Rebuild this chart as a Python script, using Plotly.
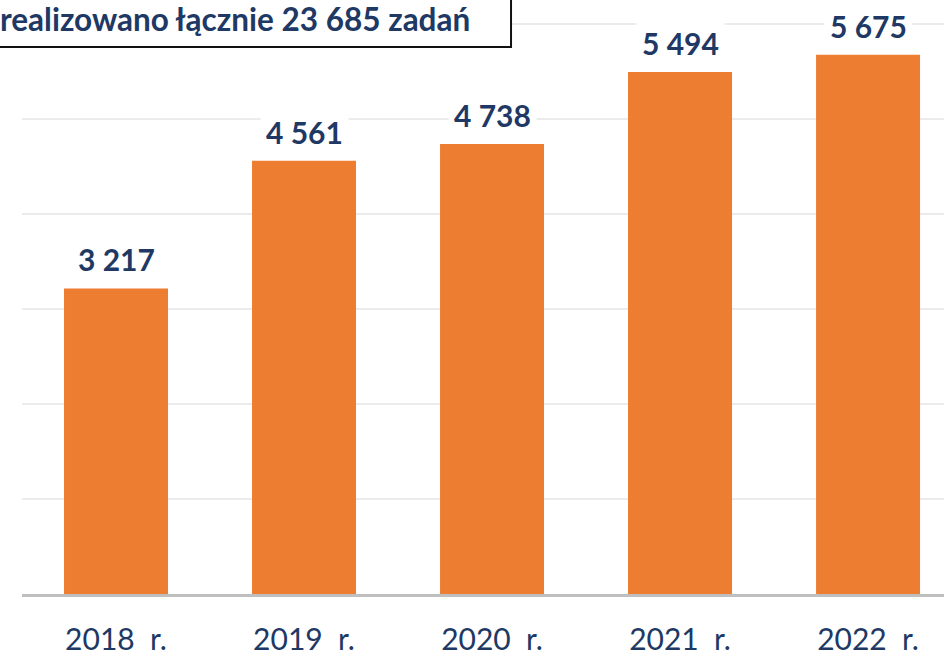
import plotly.graph_objects as go

years = ["2018\u00a0\u00a0r.", "2019\u00a0\u00a0r.", "2020\u00a0\u00a0r.", "2021\u00a0\u00a0r.", "2022\u00a0\u00a0r."]
values = [3217, 4561, 4738, 5494, 5675]
value_labels = ["3 217", "4 561", "4 738", "5 494", "5 675"]
grid_values = [1000, 2000, 3000, 4000, 5000, 6000]
title_text = "realizowano łącznie 23 685 zadań"

ORANGE = "#ED7D31"
NAVY = "#203864"
GRID = "#EBEBEB"

fig = go.Figure()
fig.add_trace(go.Bar(
    x=years, y=values, marker=dict(color=ORANGE, line=dict(width=0)),
    width=0.553, hoverinfo="skip",
))

# top gridline drawn explicitly so it is never dropped at the plot edge
fig.add_shape(type="line", xref="paper", yref="y", x0=0, x1=1,
              y0=grid_values[-1], y1=grid_values[-1],
              line=dict(color=GRID, width=2), layer="below")

for yr, v, lab in zip(years, values, value_labels):
    fig.add_annotation(
        x=yr, y=v, xref="x", yref="y", text=f"<b>{lab}</b>", showarrow=False,
        yanchor="middle", yshift=29, font=dict(family="Lato", size=30, color=NAVY),
        bgcolor="white", borderpad=5,
    )

# title box (cut at left edge)
fig.add_shape(type="rect", xref="paper", yref="paper",
              x0=-0.1, x1=0.5304, y0=0.953, y1=1.08,
              line=dict(color="#111111", width=2), fillcolor="white", layer="above")
fig.add_annotation(
    xref="paper", yref="paper", x=0.488, y=1.0009, xanchor="right", yanchor="middle",
    text=f"<b>{title_text}</b>", showarrow=False,
    font=dict(family="Lato", size=31.5, color=NAVY),
)

fig.update_layout(
    width=944, height=653,
    margin=dict(l=22, r=0, t=20, b=59, autoexpand=False),
    paper_bgcolor="white", plot_bgcolor="white",
    showlegend=False, bargap=0.447,
    font=dict(family="Lato", color=NAVY),
)
fig.update_xaxes(
    range=[-0.5, 4.404], showgrid=False, showline=True, linecolor="#BFBFBF", linewidth=3,
    ticks="", tickfont=dict(family="Lato", size=30, color=NAVY), ticklabelstandoff=17,
    fixedrange=True, automargin=False,
)
fig.update_yaxes(
    range=[0, 6042], tickvals=grid_values, showgrid=True,
    gridcolor=GRID, gridwidth=2,
    showticklabels=False, zeroline=False, showline=False, fixedrange=True, automargin=False,
)

fig.write_html("out.html", config={"displayModeBar": False},
               post_script="document.body.style.margin='0';document.body.style.overflow='hidden';")
